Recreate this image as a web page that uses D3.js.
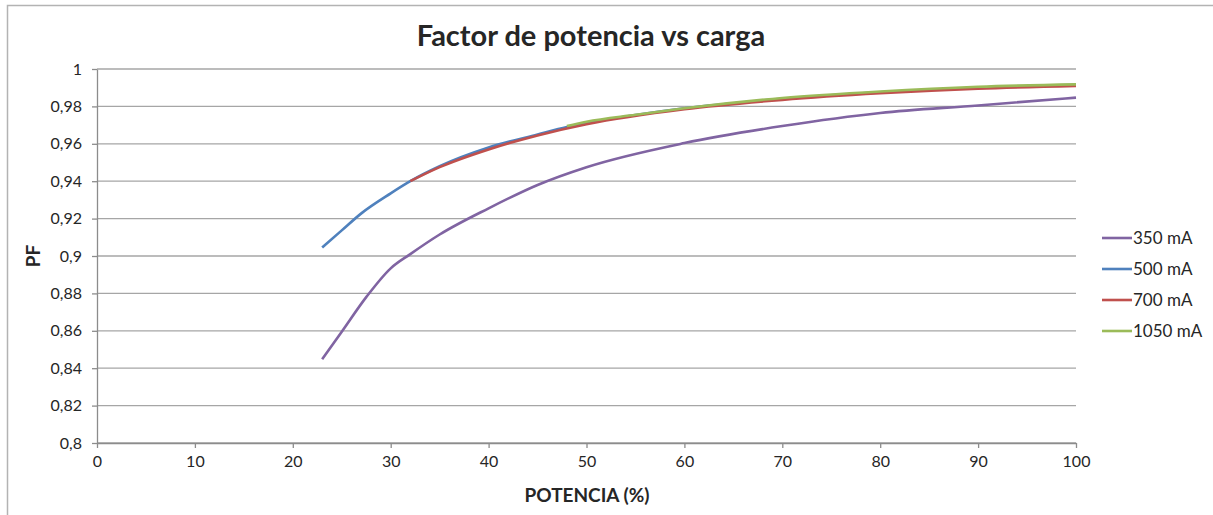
<!DOCTYPE html>
<html lang="es">
<head>
    <meta charset="UTF-8">
    <title>Factor de potencia vs carga</title>
    <script src="https://d3js.org/d3.v7.min.js"></script>
    <style>
        body { margin: 0; background: #fff; }
        text { font-family: Lato, "Open Sans", sans-serif; fill: #262626; }
    </style>
</head>
<body>
<div id="chart"></div>
<script>
    // datos
    let seriesNames = ['350 mA', '500 mA', '700 mA', '1050 mA'];
    let seriesColors = ['#8064a2', '#4f81bd', '#c0504d', '#9bbb59'];

    let x350 = [23, 25, 27.5, 30, 32, 35, 40, 45, 50, 60, 70, 80, 90, 100];
    let pf350 = [0.8448, 0.8595, 0.878, 0.8934, 0.9010, 0.9115, 0.9255, 0.938, 0.9475, 0.9604, 0.9695, 0.9765, 0.9805, 0.9847];

    let x500 = [23, 25, 27, 30, 32, 35, 40, 45, 48, 50, 60, 70, 80, 90, 100];
    let pf500 = [0.9045, 0.9137, 0.9228, 0.9335, 0.9400, 0.948, 0.958, 0.965, 0.969, 0.971, 0.979, 0.984, 0.9875, 0.990, 0.9915];

    let x700 = [32, 35, 40, 45, 50, 60, 70, 80, 90, 100];
    let pf700 = [0.940, 0.9475, 0.957, 0.9645, 0.9705, 0.9785, 0.9835, 0.987, 0.9895, 0.991];

    let x1050 = [48, 50, 55, 60, 70, 80, 90, 100];
    let pf1050 = [0.9695, 0.9718, 0.9755, 0.979, 0.9845, 0.988, 0.9905, 0.9918];

    let xTicks = [0, 10, 20, 30, 40, 50, 60, 70, 80, 90, 100];
    let yTicks = [0.8, 0.82, 0.84, 0.86, 0.88, 0.9, 0.92, 0.94, 0.96, 0.98, 1];

    let allX = [x350, x500, x700, x1050];
    let allY = [pf350, pf500, pf700, pf1050];

    let W = 1213, H = 515;
    let margin = {top: 69, right: 137, bottom: 72, left: 97};
    let width = W - margin.left - margin.right;
    let height = H - margin.top - margin.bottom;

    let root = d3.select('#chart')
        .append('svg')
        .attr('width', W)
        .attr('height', H);

    // marco del grafico
    root.append('path')
        .attr('d', 'M7.5,' + H + ' V5.5 H' + W)
        .attr('fill', 'none')
        .attr('stroke', '#b3b3b3')
        .attr('stroke-width', 1.5);

    let svg = root.append('g')
        .attr('transform', 'translate(' + margin.left + ',' + margin.top + ')');

    let x = d3.scaleLinear().domain([0, 100]).range([0, width]);
    let y = d3.scaleLinear().domain([0.8, 1]).range([height, 0]);

    // lineas de cuadricula
    svg.append('g')
        .selectAll('line')
        .data(yTicks)
        .enter()
        .append('line')
        .attr('x1', 0)
        .attr('x2', width)
        .attr('y1', d => y(d))
        .attr('y2', d => y(d))
        .attr('stroke', '#a6a6a6')
        .attr('stroke-width', 1.3);

    let fmt = d => String(+d.toFixed(2)).replace('.', ',');

    let yAxis = svg.append('g')
        .call(d3.axisLeft(y).tickValues(yTicks).tickFormat(fmt).tickSize(5).tickSizeOuter(0).tickPadding(10));
    let xAxis = svg.append('g')
        .attr('transform', 'translate(0,' + height + ')')
        .call(d3.axisBottom(x).tickValues(xTicks).tickSize(5).tickSizeOuter(0).tickPadding(8));

    [xAxis, yAxis].forEach(function (a) {
        a.select('.domain').attr('stroke', '#8c8c8c').attr('stroke-width', 1.3);
        a.selectAll('.tick line').attr('stroke', '#8c8c8c').attr('stroke-width', 1.3);
        a.selectAll('.tick text')
            .style('font-family', 'Lato, "Open Sans", sans-serif')
            .style('font-size', '16px')
            .attr('fill', '#262626');
    });

    let line = d3.line()
        .x(d => x(d[0]))
        .y(d => y(d[1]))
        .curve(d3.curveMonotoneX);

    // curvas
    allX.forEach(function (xs, i) {
        let pts = xs.map((v, j) => [v, allY[i][j]]);
        svg.append('path')
            .datum(pts)
            .attr('d', line)
            .attr('fill', 'none')
            .attr('stroke', seriesColors[i])
            .attr('stroke-width', 2.6);
    });

    // titulo
    root.append('text')
        .attr('x', 591)
        .attr('y', 46)
        .attr('text-anchor', 'middle')
        .style('font-size', '29px')
        .style('font-weight', 'bold')
        .text('Factor de potencia vs carga');

    root.append('text')
        .attr('x', 587)
        .attr('y', 502)
        .attr('text-anchor', 'middle')
        .style('font-size', '19px')
        .style('font-weight', 'bold')
        .text('POTENCIA (%)');

    root.append('text')
        .attr('transform', 'translate(40,256) rotate(-90)')
        .attr('text-anchor', 'middle')
        .style('font-size', '19px')
        .style('font-weight', 'bold')
        .text('PF');

    // leyenda
    let legend = root.append('g')
        .selectAll('g')
        .data(seriesNames)
        .enter()
        .append('g')
        .attr('transform', (d, i) => 'translate(1102,' + (238 + i * 31) + ')');
    legend.append('line')
        .attr('x1', 0)
        .attr('x2', 30)
        .attr('stroke', (d, i) => seriesColors[i])
        .attr('stroke-width', 2.6);
    legend.append('text')
        .attr('x', 31)
        .attr('dy', '0.35em')
        .style('font-size', '17px')
        .text(d => d);
</script>
</body>
</html>
